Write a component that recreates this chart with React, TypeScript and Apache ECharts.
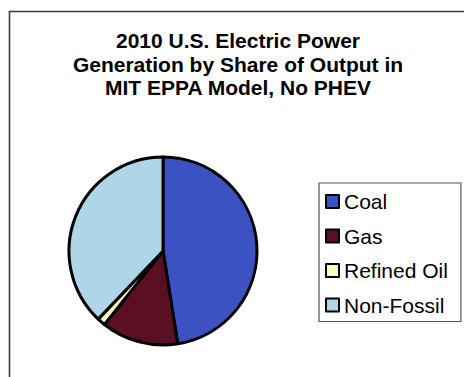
import React, { useEffect, useRef } from "react";
import * as echarts from "echarts";

// Share of 2010 U.S. electric power output (%), MIT EPPA model, no PHEV
const categories = ["Coal", "Gas", "Refined Oil", "Non-Fossil"];
const shares = [47.5, 13.2, 1.4, 37.9];
const colors = ["#3d52c2", "#5a0f22", "#fbfac2", "#afd6e6"];
const titleLines = [
  "2010 U.S. Electric Power",
  "Generation by Share of Output in",
  "MIT EPPA Model, No PHEV",
];

const FONT = "'Liberation Sans', Arial, Helvetica, sans-serif";

export default function App() {
  const ref = useRef<HTMLDivElement>(null);

  useEffect(() => {
    if (!ref.current) return;
    const chart = echarts.init(ref.current, undefined, { renderer: "svg" });
    chart.setOption({
      animation: false,
      backgroundColor: "#ffffff",
      graphic: [
        {
          type: "polyline",
          shape: { points: [[9.5, 377], [9.5, 11.5], [464, 11.5]] },
          style: { stroke: "#3a3a3a", lineWidth: 1.6, fill: null },
        },
        {
          type: "text",
          x: 238,
          y: 29,
          style: {
            text: titleLines.join("\n"),
            fontFamily: FONT,
            fontSize: 21,
            fontWeight: "bold",
            lineHeight: 23.5,
            textAlign: "center",
            textVerticalAlign: "top",
            fill: "#000",
          },
        },
      ],
      legend: {
        orient: "vertical",
        left: 319,
        top: 183,
        data: categories,
        icon: "rect",
        itemWidth: 13,
        itemHeight: 13,
        itemGap: 13.5,
        itemTextGap: 6,
        padding: [8, 13, 6, 6],
        borderColor: "#555",
        borderWidth: 1.2,
        itemStyle: { borderColor: "#000", borderWidth: 2 },
        textStyle: { fontFamily: FONT, fontSize: 21, color: "#000" },
        selectedMode: false,
      },
      series: [
        {
          type: "pie",
          center: [163, 251],
          radius: 94,
          startAngle: 90,
          clockwise: true,
          label: { show: false },
          labelLine: { show: false },
          emphasis: { disabled: true },
          itemStyle: { borderColor: "#000", borderWidth: 3 },
          data: categories.map((name, i) => ({
            name,
            value: shares[i],
            itemStyle: { color: colors[i] },
          })),
        },
      ],
    });
    return () => chart.dispose();
  }, []);

  return (
    <div
      ref={ref}
      style={{ position: "fixed", left: 0, top: 0, width: 464, height: 377 }}
    />
  );
}
